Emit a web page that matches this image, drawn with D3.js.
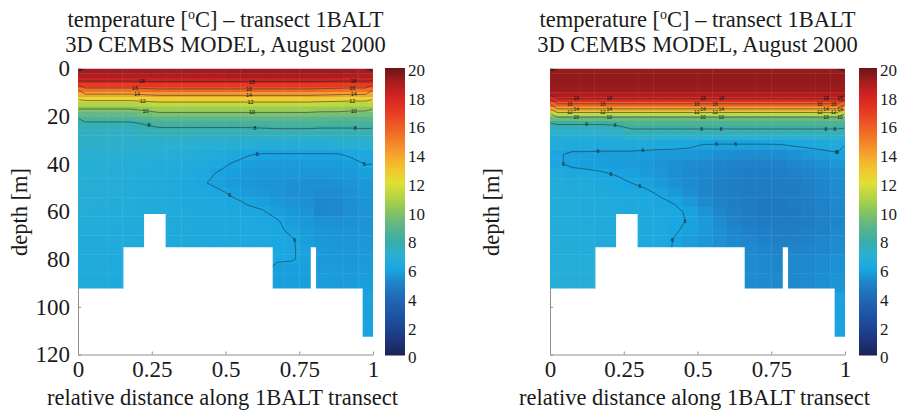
<!DOCTYPE html>
<html><head><meta charset="utf-8">
<script src="https://cdn.jsdelivr.net/npm/d3@7"></script>
<style>
body{margin:0;background:#fff}svg{display:block}
.serif{font-family:"Liberation Serif","DejaVu Serif","Times New Roman",serif}
.sans{font-family:"Liberation Sans","DejaVu Sans",Arial,sans-serif}
</style>
</head><body>
<svg id="chart" width="898" height="418"></svg>
<script>
// ---------- data ----------
const titleLine1 = ["temperature [", "o", "C] \u2013 transect 1BALT"];
const titleLine2 = "3D CEMBS MODEL, August 2000";
const xAxisLabel = "relative distance along 1BALT transect";
const yAxisLabel = "depth [m]";

const colEdges = [0,0.05,0.1,0.15,0.2,0.25,0.3,0.35,0.4,0.45,0.5,0.55,0.6,0.65,0.7,0.75,0.8,0.85,0.9,0.95,1];
const depthEdges = [0,2,4,6,8,10,12,14,16,18,20,22,24,26,28,30,34,38,42,46,50,54,58,62,66,70,74,78,82,86,90,94,98,102,106,110,114];

const xTicks = [0,0.25,0.5,0.75,1];
const xTickLabels = ["0","0.25","0.5","0.75","1"];
const yTicks = [0,20,40,60,80,100,120];
const cbTicks = [0,2,4,6,8,10,12,14,16,18,20];
const contourLevels = [6,8,10,12,14,16,18];

// seabed profile (relative distance breakpoints, bottom depth of each segment)
const seabedX = [0,0.154,0.224,0.297,0.66,0.789,0.807,0.965,1];
const seabedDepth = [92.3,75,61,75,92.3,75,92.3,112.5];

// colour map (temperature -> colour)
const cmapValues = [0,1,2,3,4,5,6,7,8,9,10,11,12,13,14,15,16,17,18,19,20];
const cmapColors = ["#1b2354","#1d3479","#1e4694","#1f57a6","#1f69b5","#1f82c8","#19a6e2","#2bb0d2","#3aaea6","#5db58a","#86c45f","#b3d445","#e2df34","#f2c52e","#f5a22c","#f27e29","#ee5a25","#e53a22","#d42421","#a81d1f","#6a1517"];

const n = null;
// left panel: temperature [degC], rows = depth cells, columns = distance cells
const tempLeft = [
[19.1,19.1,19.1,19.1,19.1,19.1,19.1,19.1,19.1,19.1,19.2,19.2,19.2,19.2,19.2,19.2,19.2,19.2,19.1,19.1],
[18.9,18.9,18.9,18.9,18.9,18.9,18.9,18.9,18.9,18.9,19.0,19.0,19.0,19.0,19.0,19.0,19.0,19.0,18.9,18.9],
[18.2,18.2,18.2,18.2,18.25,18.3,18.3,18.3,18.3,18.3,18.3,18.3,18.3,18.3,18.3,18.3,18.3,18.2,18.2,18.2],
[16.9,16.9,16.9,16.9,17.0,17.1,17.1,17.1,17.1,17.1,17.1,17.1,17.1,17.1,17.1,17.1,17.0,17.0,16.9,16.9],
[15.4,15.4,15.4,15.4,15.55,15.7,15.7,15.7,15.7,15.7,15.7,15.7,15.7,15.7,15.7,15.7,15.6,15.5,15.4,15.4],
[13.8,13.8,13.8,13.8,14.0,14.2,14.2,14.2,14.2,14.2,14.2,14.2,14.2,14.2,14.2,14.2,14.1,14.0,13.9,13.9],
[12.3,12.3,12.3,12.3,12.5,12.7,12.7,12.7,12.7,12.7,12.7,12.7,12.7,12.7,12.7,12.7,12.6,12.5,12.4,12.4],
[11.0,11.0,11.0,11.0,11.2,11.4,11.4,11.4,11.4,11.4,11.4,11.4,11.4,11.4,11.4,11.4,11.3,11.3,11.2,11.2],
[10.0,10.0,10.0,10.0,10.25,10.5,10.5,10.5,10.5,10.5,10.5,10.5,10.5,10.5,10.5,10.5,10.4,10.4,10.3,10.3],
[9.2,9.2,9.2,9.2,9.5,9.8,9.8,9.8,9.8,9.8,9.8,9.8,9.8,9.8,9.8,9.8,9.7,9.7,9.6,9.6],
[8.5,8.5,8.5,8.5,8.75,9.0,9.0,9.0,9.0,9.0,9.0,9.0,9.0,9.0,9.0,9.0,9.0,8.9,8.9,8.9],
[7.8,7.8,7.8,7.8,8.1,8.4,8.4,8.4,8.4,8.4,8.4,8.4,8.45,8.5,8.5,8.5,8.5,8.45,8.4,8.4],
[7.5,7.5,7.5,7.5,7.7,7.95,7.95,7.95,7.95,7.95,7.95,7.95,8.0,8.05,8.05,8.05,8.0,8.0,8.0,8.05],
[7.3,7.3,7.3,7.3,7.45,7.6,7.6,7.6,7.6,7.6,7.6,7.6,7.6,7.65,7.65,7.65,7.6,7.6,7.65,7.7],
[7.2,7.2,7.2,7.2,7.3,7.4,7.4,7.4,7.4,7.4,7.4,7.35,7.35,7.35,7.35,7.35,7.35,7.4,7.45,7.5],
[7.2,7.2,7.2,7.1,7.1,7.0,7.0,7.0,6.9,6.9,6.8,6.8,6.7,6.7,6.7,6.7,6.7,6.8,6.8,6.9],
[6.9,6.9,6.9,6.8,6.8,6.8,6.7,6.7,6.6,6.5,6.3,6.05,5.95,5.95,5.95,5.95,5.95,5.95,6.1,6.3],
[6.8,6.8,6.8,6.7,6.7,6.6,6.6,6.5,6.4,6.2,5.95,5.8,5.7,5.7,5.7,5.7,5.7,5.7,5.8,6.02],
[6.8,6.8,6.7,6.7,6.6,6.6,6.5,6.4,6.2,5.95,5.8,5.7,5.6,5.6,5.6,5.55,5.55,5.6,5.65,5.8],
[6.8,6.7,6.7,6.6,6.6,6.5,6.4,6.3,6.05,5.85,5.7,5.6,5.5,5.5,5.45,5.4,5.4,5.45,5.5,5.6],
[6.7,6.7,6.7,6.6,6.5,6.5,6.4,6.3,6.2,6.1,5.9,5.7,5.6,5.5,5.4,5.4,5.3,5.3,5.45,5.55],
[6.7,6.7,6.6,6.6,6.5,6.5,6.4,6.3,6.3,6.2,6.1,5.95,5.8,5.6,5.5,5.4,5.15,5.2,5.4,5.5],
[6.7,6.6,6.6,6.6,6.5,6.5,6.4,6.4,6.3,6.3,6.2,6.1,6.05,5.8,5.6,5.5,5.15,5.2,5.4,5.5],
[6.6,6.6,6.6,6.5,6.5,6.4,6.4,6.4,6.3,6.3,6.3,6.2,6.1,6.05,5.75,5.6,5.45,5.45,5.45,5.5],
[6.6,6.6,6.5,6.5,6.5,6.4,6.4,6.4,6.3,6.3,6.3,6.2,6.2,6.1,5.9,5.7,5.55,5.5,5.5,5.55],
[6.5,6.5,6.5,6.5,6.4,6.4,6.4,6.4,6.3,6.3,6.3,6.2,6.2,6.1,6.05,5.8,5.6,5.55,5.55,5.6],
[6.5,6.5,6.5,6.4,6.4,6.4,6.4,6.3,6.3,6.3,6.3,6.2,6.2,6.1,6.05,5.85,5.65,5.6,5.6,5.65],
[6.5,6.5,6.4,6.4,n,n,n,n,n,n,n,n,n,6.1,6.05,5.85,5.7,5.65,5.6,5.7],
[6.4,6.4,6.4,6.4,n,n,n,n,n,n,n,n,n,5.8,5.8,5.8,5.7,5.7,5.65,5.7],
[6.4,6.4,6.4,6.4,n,n,n,n,n,n,n,n,n,5.8,5.8,5.8,5.75,5.7,5.7,5.75],
[6.4,6.4,6.3,6.3,n,n,n,n,n,n,n,n,n,5.8,5.8,5.8,5.75,5.75,5.75,5.8],
[n,n,n,n,n,n,n,n,n,n,n,n,n,n,n,n,n,n,n,5.85],
[n,n,n,n,n,n,n,n,n,n,n,n,n,n,n,n,n,n,n,5.9],
[n,n,n,n,n,n,n,n,n,n,n,n,n,n,n,n,n,n,n,5.9],
[n,n,n,n,n,n,n,n,n,n,n,n,n,n,n,n,n,n,n,5.95],
[n,n,n,n,n,n,n,n,n,n,n,n,n,n,n,n,n,n,n,5.95]
];

// right panel
const tempRight = [
[19.3,19.3,19.3,19.3,19.3,19.3,19.3,19.3,19.3,19.3,19.3,19.3,19.3,19.3,19.3,19.3,19.3,19.3,19.3,19.3],
[19.35,19.35,19.35,19.35,19.35,19.35,19.35,19.35,19.35,19.35,19.35,19.35,19.35,19.35,19.35,19.35,19.35,19.35,19.35,19.35],
[19.35,19.35,19.35,19.35,19.35,19.35,19.35,19.35,19.35,19.35,19.35,19.35,19.35,19.35,19.35,19.35,19.35,19.35,19.35,19.35],
[19.3,19.3,19.3,19.3,19.3,19.3,19.3,19.3,19.3,19.3,19.3,19.3,19.3,19.3,19.3,19.3,19.3,19.3,19.3,19.3],
[19.2,19.2,19.2,19.2,19.2,19.2,19.2,19.2,19.2,19.2,19.2,19.2,19.2,19.2,19.2,19.2,19.2,19.2,19.2,19.2],
[18.8,18.8,18.8,18.8,18.8,18.8,18.8,18.8,18.8,18.8,18.8,18.8,18.8,18.8,18.8,18.8,18.8,18.8,18.8,18.8],
[17.8,17.8,17.8,17.8,17.8,17.8,17.8,17.8,17.8,17.8,17.8,17.8,17.8,17.8,17.8,17.8,17.8,17.8,17.8,17.8],
[15.8,15.8,15.8,15.8,15.8,15.8,15.8,15.8,15.8,15.8,15.8,15.8,15.8,15.8,15.8,15.8,15.8,15.8,15.8,15.8],
[13.9,13.9,13.9,13.9,13.9,13.9,13.9,13.9,13.9,13.9,13.9,13.9,13.9,13.9,13.9,13.9,13.9,13.9,13.9,13.9],
[11.3,11.3,11.3,11.3,11.3,11.3,11.3,11.3,11.3,11.3,11.3,11.3,11.3,11.3,11.3,11.3,11.3,11.3,11.3,11.3],
[9.4,9.4,9.4,9.4,9.4,9.4,9.4,9.4,9.4,9.4,9.4,9.4,9.4,9.4,9.4,9.4,9.4,9.4,9.4,9.4],
[8.2,8.2,8.2,8.2,8.3,8.6,8.6,8.6,8.6,8.6,8.6,8.6,8.6,8.6,8.6,8.6,8.6,8.6,8.6,8.6],
[7.4,7.4,7.4,7.4,7.6,8.1,8.1,8.1,8.1,8.1,8.1,8.1,8.1,8.1,8.1,8.1,8.1,8.1,8.1,8.1],
[7.0,7.0,7.0,7.0,7.2,7.6,7.6,7.6,7.6,7.6,7.6,7.6,7.6,7.6,7.6,7.6,7.6,7.6,7.6,7.6],
[6.7,6.7,6.7,6.7,6.8,7.1,7.1,7.1,7.1,7.1,7.1,7.1,7.1,7.1,7.1,7.1,7.1,7.1,7.1,7.1],
[6.6,6.4,6.4,6.4,6.4,6.4,6.35,6.3,6.3,6.2,5.95,5.9,5.9,5.9,5.9,5.95,6.1,6.2,6.3,6.4],
[6.1,5.85,5.85,5.8,5.8,5.8,5.75,5.7,5.65,5.6,5.5,5.4,5.35,5.3,5.3,5.35,5.45,5.6,5.75,5.9],
[6.1,5.85,5.8,5.8,5.75,5.7,5.6,5.5,5.4,5.3,5.2,5.1,5.0,4.95,4.95,5.0,5.1,5.25,5.4,5.55],
[6.5,6.25,6.15,6.05,5.95,5.85,5.7,5.55,5.4,5.25,5.1,5.0,4.9,4.85,4.85,4.85,4.95,5.05,5.2,5.35],
[6.6,6.45,6.35,6.25,6.15,6.0,5.85,5.65,5.45,5.25,5.05,4.9,4.8,4.75,4.75,4.75,4.8,4.95,5.1,5.3],
[6.6,6.5,6.45,6.35,6.3,6.2,6.1,5.9,5.65,5.35,5.1,4.9,4.8,4.7,4.7,4.7,4.75,4.9,5.05,5.25],
[6.6,6.55,6.5,6.45,6.4,6.3,6.2,6.1,5.95,5.6,5.25,5.0,4.85,4.75,4.65,4.65,4.7,4.85,5.0,5.2],
[6.6,6.55,6.5,6.45,6.4,6.35,6.3,6.2,6.1,5.9,5.5,5.1,4.9,4.75,4.65,4.6,4.65,4.8,4.95,5.15],
[6.6,6.55,6.5,6.5,6.45,6.4,6.3,6.2,6.1,5.95,5.65,5.3,5.0,4.85,4.75,4.7,4.7,4.8,4.95,5.15],
[6.65,6.6,6.55,6.5,6.5,6.4,6.3,6.2,6.05,5.85,5.65,5.4,5.1,4.95,4.85,4.8,4.8,4.9,5.0,5.2],
[6.65,6.6,6.55,6.5,6.5,6.4,6.3,6.2,5.95,5.75,5.6,5.4,5.2,5.1,5.0,4.9,4.9,5.0,5.1,5.25],
[6.7,6.65,6.6,6.55,6.5,6.4,6.3,6.15,5.95,5.75,5.6,5.45,5.3,5.2,5.1,5.05,5.05,5.1,5.15,5.3],
[6.7,6.7,6.65,6.6,n,n,n,n,n,n,n,n,n,5.25,5.2,5.15,5.2,5.2,5.3,5.45],
[6.75,6.7,6.65,6.6,n,n,n,n,n,n,n,n,n,5.25,5.2,5.15,5.2,5.2,5.3,5.45],
[6.75,6.7,6.65,6.6,n,n,n,n,n,n,n,n,n,5.3,5.25,5.2,5.2,5.25,5.35,5.5],
[6.75,6.7,6.65,6.6,n,n,n,n,n,n,n,n,n,5.3,5.25,5.2,5.25,5.3,5.4,5.55],
[n,n,n,n,n,n,n,n,n,n,n,n,n,n,n,n,n,n,n,5.85],
[n,n,n,n,n,n,n,n,n,n,n,n,n,n,n,n,n,n,n,5.9],
[n,n,n,n,n,n,n,n,n,n,n,n,n,n,n,n,n,n,n,5.9],
[n,n,n,n,n,n,n,n,n,n,n,n,n,n,n,n,n,n,n,5.95],
[n,n,n,n,n,n,n,n,n,n,n,n,n,n,n,n,n,n,n,5.95]
];

// contour label anchors: [relative distance, approximate depth, level]
const labelsLeft = [
[0.216,5,18],[0.193,8,16],[0.2,10.5,14],[0.22,13,12],[0.23,17,10],[0.244,22,8],
[0.589,5,18],[0.58,8,16],[0.58,10.5,14],[0.585,13,12],[0.59,18,10],[0.6,25,8],
[0.933,5,18],[0.93,8,16],[0.935,11,14],[0.93,14,12],[0.935,18,10],[0.94,26,8],
[0.608,36,6],[0.97,40,6],[0.51,54,6],[0.748,72,6]
];
const labelsRight = [
[0.078,12.6,18],[0.078,14.7,16],[0.078,16.8,14],[0.078,18.5,12],[0.078,20.4,10],
[0.19,12.6,18],[0.19,14.7,16],[0.19,16.8,14],[0.19,18.5,12],[0.19,20.4,10],
[0.508,12.6,18],[0.508,14.7,16],[0.508,16.8,14],[0.508,18.5,12],[0.508,20.4,10],
[0.57,12.6,18],[0.57,14.7,16],[0.57,16.8,14],[0.57,18.5,12],[0.57,20.4,10],
[0.925,12.6,18],[0.925,14.7,16],[0.925,16.8,14],[0.925,18.5,12],[0.925,20.4,10],
[0.972,12.6,18],[0.972,14.7,16],[0.972,16.8,14],[0.972,18.5,12],[0.972,20.4,10],
[0.124,24,8],[0.22,26,8],[0.514,26,8],[0.58,26,8],[0.935,26,8],[0.966,26,8],
[0.044,40,6],[0.163,34,6],[0.315,35,6],[0.565,31.6,6],[0.63,32,6],[0.97,35.5,6],[0.985,37.5,6],
[0.21,43,6],[0.3,51,6],[0.475,65,6],[0.41,71.6,6]
];

// ---------- drawing ----------
const svg = d3.select("#chart");
const color = d3.scaleLinear().domain(cmapValues).range(cmapColors).clamp(true);
const defs = svg.append("defs");
const grad = defs.append("linearGradient").attr("id","cbgrad")
  .attr("x1",0).attr("y1",1).attr("x2",0).attr("y2",0);
cmapValues.forEach((v,i)=>grad.append("stop").attr("offset", v/20).attr("stop-color", cmapColors[i]));

const colCenters = d3.range(colEdges.length-1).map(i=>(colEdges[i]+colEdges[i+1])/2);
const rowCenters = d3.range(depthEdges.length-1).map(j=>(depthEdges[j]+depthEdges[j+1])/2);
const nCols = colCenters.length, nRows = rowCenters.length;
const gx2frac = d3.scaleLinear().domain(colCenters.map((_,i)=>i+0.5)).range(colCenters);
const gy2depth = d3.scaleLinear().domain(rowCenters.map((_,j)=>j+0.5)).range(rowCenters);

function drawPanel(id, data, labels, o) {
  const x = d3.scaleLinear().domain([0,1]).range([o.x0, o.x1]);
  const y = d3.scaleLinear().domain([0,120]).range([68.5, 354.5]);
  const g = svg.append("g");

  // titles
  const t1 = g.append("text").attr("class","serif").attr("x",(o.x0+o.x1)/2).attr("y",26.5).attr("text-anchor","middle")
    .attr("font-size",22.5).attr("fill","#1a1a1a");
  t1.append("tspan").text(titleLine1[0]);
  t1.append("tspan").attr("font-size",14).attr("dy",-8).text(titleLine1[1]);
  t1.append("tspan").attr("dy",8).text(titleLine1[2]);
  g.append("text").attr("class","serif").attr("x",(o.x0+o.x1)/2).attr("y",51.5).attr("text-anchor","middle")
    .attr("font-size",22.5).attr("fill","#1a1a1a").text(titleLine2);

  // axes (drawn first: the field covers them)
  const ax = g.append("g").attr("transform",`translate(0,354.5)`)
    .call(d3.axisBottom(x).tickValues(xTicks).tickFormat((d,i)=>xTickLabels[i]).tickSize(-3).tickSizeOuter(0).tickPadding(6));
  const ay = g.append("g").attr("transform",`translate(${o.x0},0)`)
    .call(d3.axisLeft(y).tickValues(yTicks).tickFormat(d3.format("d")).tickSize(-3).tickSizeOuter(0).tickPadding(o.yPad));
  [ax, ay].forEach(a=>{
    a.attr("font-family",null).attr("class","serif").attr("font-size",23);
    a.selectAll("path.domain, .tick line").attr("stroke","#8f8f8f");
    a.selectAll("text").attr("fill","#1a1a1a");
  });
  if (o.clipYLabels) {
    defs.append("clipPath").attr("id","ylab"+id)
      .append("rect").attr("x",o.x0-60).attr("y",0).attr("width",60).attr("height",354.5);
    ay.selectAll(".tick text").attr("clip-path",`url(#ylab${id})`);
  }

  // water clip
  const pts = [[0,0],[1,0]];
  for (let k=seabedDepth.length-1;k>=0;k--) { pts.push([seabedX[k+1],seabedDepth[k]]); pts.push([seabedX[k],seabedDepth[k]]); }
  defs.append("clipPath").attr("id","water"+id)
    .append("path").attr("d", "M"+pts.map(p=>[x(p[0]),y(p[1])].join(",")).join("L")+"Z");
  defs.append("clipPath").attr("id","inner"+id)
    .append("rect").attr("x",o.x0+1).attr("y",y(0)+1).attr("width",o.x1-o.x0-2).attr("height",y(120)-y(0));

  const field = g.append("g").attr("clip-path",`url(#water${id})`);
  const cells = [];
  data.forEach((row,j)=>row.forEach((v,i)=>{ if (v!=null) cells.push({i,j,v}); }));
  field.selectAll("rect.cell").data(cells).join("rect").attr("class","cell")
    .attr("x",d=>x(colEdges[d.i])).attr("y",d=>y(depthEdges[d.j]))
    .attr("width",d=>x(colEdges[d.i+1])-x(colEdges[d.i])+0.4)
    .attr("height",d=>y(depthEdges[d.j+1])-y(depthEdges[d.j])+0.4)
    .attr("fill",d=>color(d.v));

  // grid for contouring (cells below the seabed take the value above them; they stay hidden)
  const flat = new Array(nCols*nRows);
  for (let i=0;i<nCols;i++){ let last=null; for (let j=0;j<nRows;j++){ let v=data[j][i]; if(v==null) v=last; else last=v; flat[j*nCols+i]=v; } }
  const contours = d3.contours().size([nCols,nRows]).thresholds(contourLevels)(flat);
  const toPx = p=>[x(gx2frac(p[0])), y(gy2depth(p[1]))];
  const cg = field.append("g").attr("clip-path",`url(#inner${id})`);
  cg.selectAll("path").data(contours).join("path")
    .attr("d", c=>c.coordinates.map(poly=>poly.map(ring=>"M"+ring.map(p=>toPx(p).join(",")).join("L")+"Z").join("")).join(""))
    .attr("fill","none").attr("stroke","#1e2a30").attr("stroke-opacity",0.75).attr("stroke-width",0.7);

  // contour labels snapped to the nearest contour segment
  labels.forEach(([xf, dh, lev])=>{
    const c = contours.find(cc=>cc.value===lev); if(!c) return;
    const tx = x(xf), ty = y(dh); let best=null, bd=1e9;
    c.coordinates.forEach(poly=>poly.forEach(ring=>{
      for (let k=0;k<ring.length-1;k++){
        const a=ring[k], b=ring[k+1];
        const onEdge = (a[0]<=0.001&&b[0]<=0.001)||(a[0]>=nCols-0.001&&b[0]>=nCols-0.001)||(a[1]<=0.001&&b[1]<=0.001);
        if(onEdge) continue;
        const A=toPx(a), B=toPx(b);
        const dx=B[0]-A[0], dy=B[1]-A[1], L2=dx*dx+dy*dy;
        let t = L2>0 ? ((tx-A[0])*dx+(ty-A[1])*dy)/L2 : 0; t=Math.max(0,Math.min(1,t));
        const px=A[0]+t*dx, py=A[1]+t*dy, d2=(px-tx)**2+(py-ty)**2;
        if(d2<bd){bd=d2;best=[px,py];}
      }
    }));
    if(!best) return;
    // stacked labels in a tight thermocline are nudged sideways alternately
    const shift = (o.stagger && lev>=10) ? ((lev/2)%2 ? 3.2 : -3.2) : 0;
    g.append("text").attr("class","sans").attr("x",best[0]+shift).attr("y",best[1]).attr("dy","0.35em")
      .attr("text-anchor","middle").attr("font-size",o.stagger?5:5.5).attr("fill","#151515").text(lev);
  });

  // axis labels
  g.append("text").attr("class","serif").attr("x",(o.x0+o.x1)/2-3).attr("y",405).attr("text-anchor","middle")
    .attr("font-size",22.5).attr("fill","#1a1a1a").text(xAxisLabel);
  g.append("text").attr("class","serif").attr("transform",`translate(${o.yLabX},212) rotate(-90)`).attr("text-anchor","middle")
    .attr("font-size",22.5).attr("fill","#1a1a1a").text(yAxisLabel);

  // colour bar
  const cy = d3.scaleLinear().domain([0,20]).range([355.5, 68]);
  g.append("rect").attr("x",o.cb0).attr("y",cy(20)).attr("width",o.cb1-o.cb0).attr("height",cy(0)-cy(20)).attr("fill","url(#cbgrad)");
  g.selectAll("text.cb").data(cbTicks).join("text").attr("class","cb serif")
    .attr("x",o.cb1+3).attr("y",d=>cy(d)+2).attr("dy","0.35em")
    .attr("font-size",17).attr("fill","#1a1a1a").text(d=>d);
}

drawPanel("L", tempLeft, labelsLeft, {x0:78, x1:373, cb0:385, cb1:405, yPad:8, yLabX:27, clipYLabels:false, stagger:false});
drawPanel("R", tempRight, labelsRight, {x0:550, x1:845, cb0:859, cb1:877, yPad:5, yLabX:499, clipYLabels:true, stagger:true});
</script>
</body></html>
